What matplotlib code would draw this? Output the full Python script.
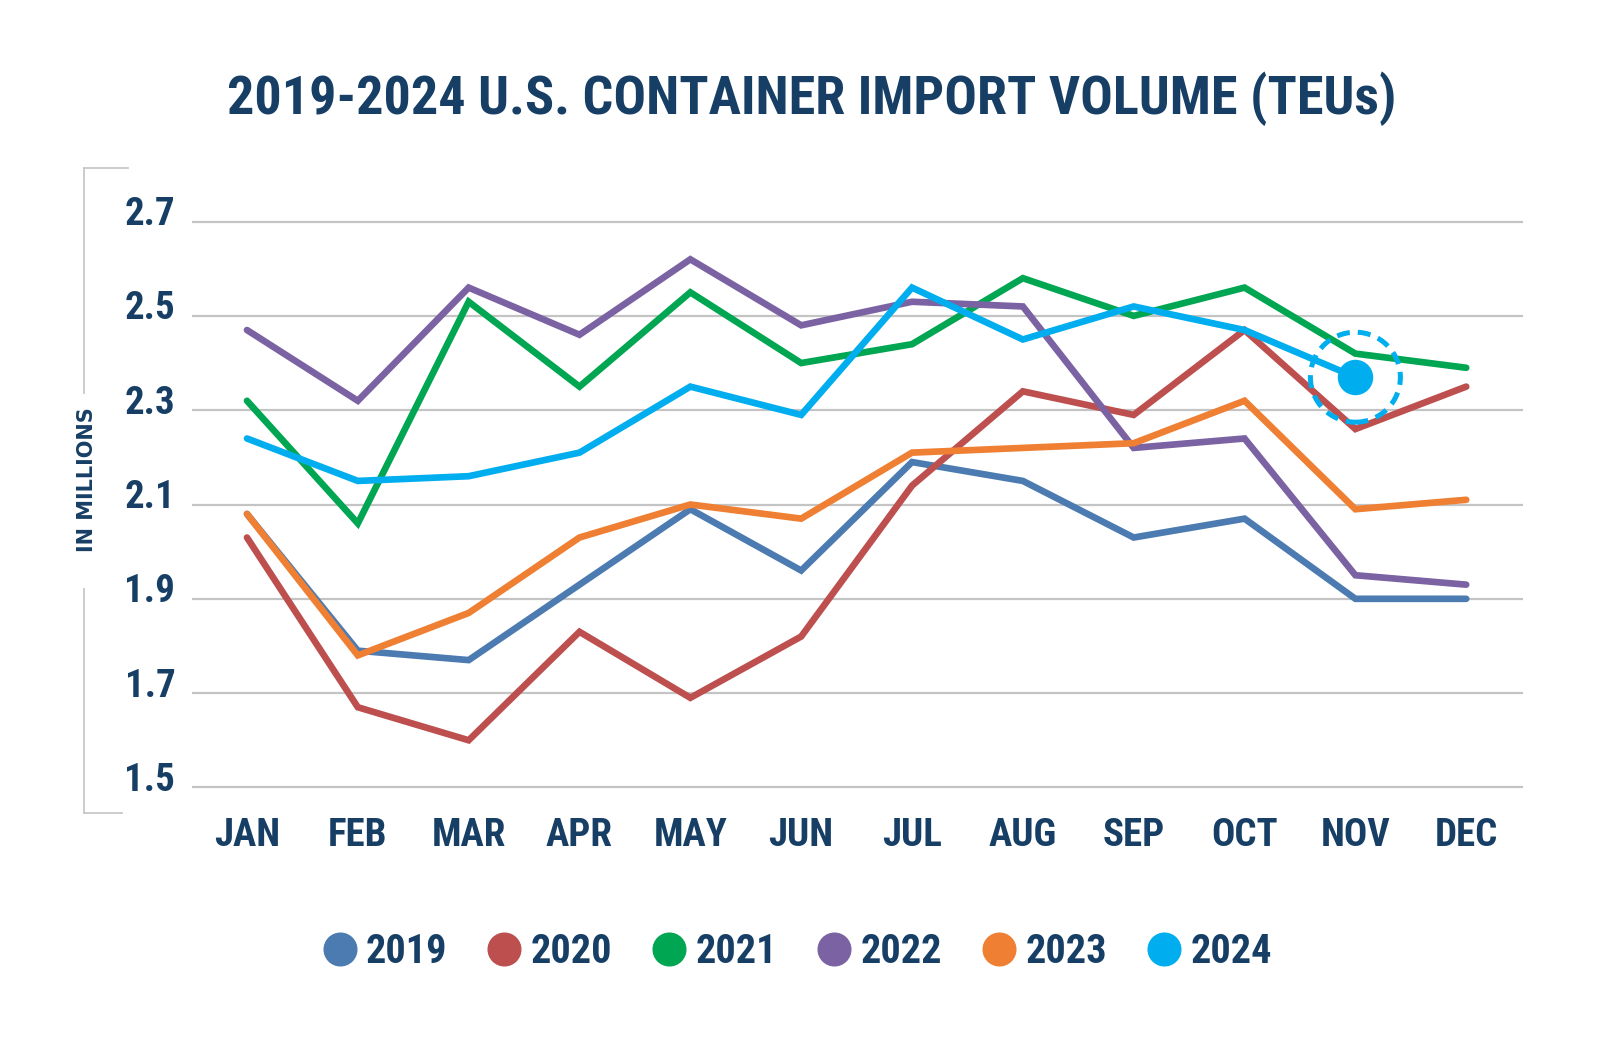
import matplotlib
matplotlib.use('Agg')
import matplotlib.pyplot as plt
import matplotlib.transforms as mtransforms
from matplotlib.patches import Circle
from matplotlib.lines import Line2D

# chart data
months = ['JAN', 'FEB', 'MAR', 'APR', 'MAY', 'JUN', 'JUL', 'AUG', 'SEP', 'OCT', 'NOV', 'DEC']
years = ['2019', '2020', '2021', '2022', '2023', '2024']
teu_2019 = [2.08, 1.79, 1.77, 1.93, 2.09, 1.96, 2.19, 2.15, 2.03, 2.07, 1.90, 1.90]
teu_2020 = [2.03, 1.67, 1.60, 1.83, 1.69, 1.82, 2.14, 2.34, 2.29, 2.47, 2.26, 2.35]
teu_2021 = [2.32, 2.06, 2.53, 2.35, 2.55, 2.40, 2.44, 2.58, 2.50, 2.56, 2.42, 2.39]
teu_2022 = [2.47, 2.32, 2.56, 2.46, 2.62, 2.48, 2.53, 2.52, 2.22, 2.24, 1.95, 1.93]
teu_2023 = [2.08, 1.78, 1.87, 2.03, 2.10, 2.07, 2.21, 2.22, 2.23, 2.32, 2.09, 2.11]
teu_2024 = [2.24, 2.15, 2.16, 2.21, 2.35, 2.29, 2.56, 2.45, 2.52, 2.47, 2.37]
y_ticks = [1.5, 1.7, 1.9, 2.1, 2.3, 2.5, 2.7]

series = [teu_2019, teu_2020, teu_2021, teu_2022, teu_2023, teu_2024]
colors = ['#4b7bb0', '#bd4f4f', '#00a651', '#7b62a3', '#ef7f32', '#00aeef']
navy = '#173f65'
grid_gray = '#c4c4c4'

plt.rcParams['font.family'] = ['Roboto Condensed', 'DejaVu Sans']
plt.rcParams['font.weight'] = 'bold'

fig = plt.figure(figsize=(16, 10.4), dpi=100)
ax = fig.add_axes([0.12, 0.2202, 0.832, 0.5894])

x = list(range(len(months)))
for vals, col in zip(series, colors):
    ax.plot(x[:len(vals)], vals, color=col, lw=4.8, solid_capstyle='round',
            solid_joinstyle='miter', zorder=3)

# latest month highlight
nov = len(teu_2024) - 1
ax.plot(nov, teu_2024[nov], 'o', ms=24.5, color=colors[5], zorder=5)
ring = Circle((0, 0), 0.45, fill=False, ec=colors[5], lw=3.6, ls=(0, (2.6, 1.6)),
              transform=fig.dpi_scale_trans + mtransforms.ScaledTranslation(nov, teu_2024[nov], ax.transData),
              zorder=5)
ax.add_artist(ring)

ax.set_xlim(-0.496, 11.514)
ax.set_ylim(1.45, 2.75)
ax.set_yticks(y_ticks)
ax.set_yticklabels([f'{v:.1f}' for v in y_ticks])
ax.set_xticks(x)
ax.set_xticklabels(months)
ax.yaxis.grid(True, color=grid_gray, lw=1.6)
ax.set_axisbelow(True)
for s in ax.spines.values():
    s.set_visible(False)
ax.tick_params(axis='both', length=0, labelsize=28, labelcolor=navy)
ax.tick_params(axis='y', pad=12)
ax.tick_params(axis='x', pad=4)
# y labels sit a bit above their gridlines
for lab in ax.get_yticklabels():
    lab.set_transform(lab.get_transform() + mtransforms.ScaledTranslation(0, 0.11, fig.dpi_scale_trans))

fig.text(0.507, 0.905, '2019-2024 U.S. CONTAINER IMPORT VOLUME (TEUs)', ha='center', va='center',
         fontsize=39, color=navy, fontweight='bold')

# bracket + axis title on the left
br = dict(color='#c8c8c8', lw=1.3, transform=fig.transFigure)
fig.add_artist(Line2D([84/1600, 84/1600], [1-168/1040, 1-393/1040], **br))
fig.add_artist(Line2D([84/1600, 84/1600], [1-589/1040, 1-813/1040], **br))
fig.add_artist(Line2D([84/1600, 128/1600], [1-168/1040, 1-168/1040], **br))
fig.add_artist(Line2D([84/1600, 122/1600], [1-813/1040, 1-813/1040], **br))
fig.text(87/1600, 1-480/1040, 'IN MILLIONS', rotation=90, ha='center', va='center',
         fontsize=15, color=navy, family='DejaVu Sans', fontweight='bold')

handles = [Line2D([], [], ls='none', marker='o', ms=23.5, color=c) for c in colors]
fig.legend(handles, years, loc='center', bbox_to_anchor=(0.4985, 1-952/1040), ncol=6, frameon=False,
           fontsize=29, labelcolor=navy, handlelength=0.8, handletextpad=0.25, columnspacing=1.02)

fig.savefig('out.png', dpi=100)
